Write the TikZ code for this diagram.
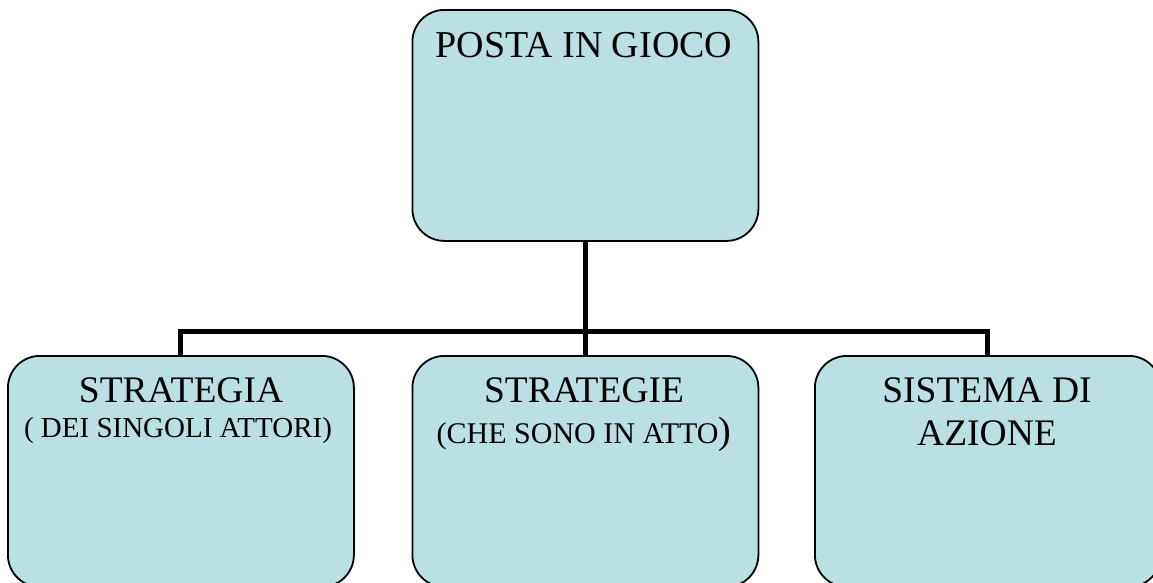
\documentclass[tikz,border=0pt]{standalone}
\usepackage{fontspec}
\setmainfont{Liberation Serif}
\definecolor{boxfill}{RGB}{186,224,227}
\tikzset{
  box/.style={draw=black, line width=1.8pt, fill=boxfill, rounded corners=32pt,
    minimum width=346pt, minimum height=231pt, anchor=north west, inner sep=0pt},
  conn/.style={draw=black, line width=5pt, line join=miter},
  big/.style={font=\fontsize{38}{44}\selectfont, anchor=base, inner sep=0pt},
  mid/.style={font=\fontsize{37.5}{44}\selectfont, anchor=base, inner sep=0pt},
  small/.style={font=\fontsize{29}{34}\selectfont, anchor=base, inner sep=0pt}
}
\begin{document}
\begin{tikzpicture}[x=1pt,y=-1pt]
\useasboundingbox (0,0) rectangle (1153,582);
\clip (0,0) rectangle (1153,582);
\node[box] (top) at (411.5,9) {};
\node[box] (left) at (7,355) {};
\node[box] (mid) at (411.5,355) {};
\node[box] (right) at (814,355) {};
\coordinate (j) at (584.5,331);
\draw[conn] (top.south) -- (mid.north);
\draw[conn] (left.north) |- (j) -| (right.north);
\node[big] (t1) at (584,57.5) {POSTA IN GIOCO};
\node[mid] (l1) at (181,402) {STRATEGIA};
\node[small] (l2) at (178,437) {( DEI SINGOLI ATTORI)};
\node[mid] (m1) at (584,402) {STRATEGIE};
\node[small] (m2) at (584,443) {\fontsize{30}{36}\selectfont(CHE SONO IN ATTO{\fontsize{38}{44}\selectfont)}};
\node[mid] (r1) at (987,402) {SISTEMA DI};
\node[mid] (r2) at (987,445) {AZIONE};
\end{tikzpicture}
\end{document}
